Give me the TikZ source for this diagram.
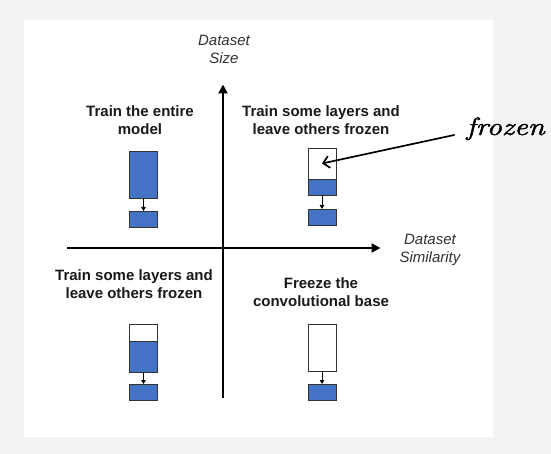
\documentclass[tikz,border=0pt]{standalone}
\usepackage{fontspec}
\setmainfont{Liberation Sans}
\newfontfamily\handfont{Latin Modern Roman}[FakeBold=1.6]
\usetikzlibrary{arrows.meta}
\definecolor{bggray}{HTML}{F3F3F3}
\definecolor{lblue}{HTML}{4472C4}
\definecolor{edgec}{HTML}{333333}
\definecolor{txt}{HTML}{1A1A1A}
\begin{document}
\begin{tikzpicture}[x=1pt,y=-1pt,
  layer/.style={draw=edgec,line width=0.9pt,minimum width=28pt,inner sep=0pt,outer sep=0pt,anchor=north},
  bluebox/.style={layer,fill=lblue},
  whitebox/.style={layer,fill=white},
  smallarrow/.style={draw=black,line width=0.8pt,-{Triangle[length=4pt,width=4.5pt]}},
  axisline/.style={draw=black,line width=2.3pt,-{Triangle[length=9pt,width=9pt]}},
  heading/.style={font=\fontsize{15}{18}\bfseries\selectfont,align=center,text=txt,inner sep=0pt,anchor=north},
  axislabel/.style={font=\fontsize{15}{18.5}\itshape\selectfont,align=center,text=txt!90,inner sep=0pt,anchor=north},
  handarrow/.style={draw=black,line width=1.7pt,line cap=round,-{Straight Barb[length=6pt,width=12pt]}}]
\fill[bggray] (0,0) rectangle (551,454);
\useasboundingbox (0,0) rectangle (551,454);
\fill[white] (24,20) rectangle (493,437);
% axes
\coordinate (vbot) at (223,398);
\coordinate (vtop) at (223,84.5);
\coordinate (hleft) at (67,248);
\coordinate (hright) at (380.5,248);
\draw[axisline] (vbot) -- (vtop);
\draw[axisline] (hleft) -- (hright);
\node[axislabel] (ysize) at (224,34.5) {Dataset\\Size};
\node[axislabel] (xsim) at (430,233.5) {Dataset\\Similarity};
% headings
\node[heading] (tlh) at (140,105) {Train the entire\\model};
\node[heading] (trh) at (321,105) {Train some layers and\\leave others frozen};
\node[heading] (blh) at (134,269) {Train some layers and\\leave others frozen};
\node[heading] (brh) at (321,277) {Freeze the\\convolutional base};
% top-left
\node[bluebox,minimum height=47pt] (tlbig) at (143.5,151) {};
\node[bluebox,minimum height=16pt] (tlsmall) at (143.5,211) {};
\draw[smallarrow] (tlbig.south) -- (tlsmall.north);
% top-right
\node[whitebox,minimum height=31pt] (trw) at (322,148) {};
\node[bluebox,minimum height=16pt] (trb) at (trw.south) {};
\node[bluebox,minimum height=16pt] (trsmall) at (322,209) {};
\draw[smallarrow] (trb.south) -- (trsmall.north);
% bottom-left
\node[whitebox,minimum height=17pt] (blw) at (143.5,324) {};
\node[bluebox,minimum height=31pt] (blb) at (blw.south) {};
\node[bluebox,minimum height=16pt] (blsmall) at (143.5,384) {};
\draw[smallarrow] (blb.south) -- (blsmall.north);
% bottom-right
\node[whitebox,minimum height=47pt] (brw) at (322,324) {};
\node[bluebox,minimum height=16pt] (brsmall) at (322,384) {};
\draw[smallarrow] (brw.south) -- (brsmall.north);
% frozen annotation
\node[font=\handfont\itshape\fontsize{25}{28}\selectfont,anchor=base,inner xsep=12pt,inner ysep=0pt] (frozen) at (505.5,135) {\scalebox{1.22}[1]{frozen}};
\draw[handarrow] (frozen.base west) -- (trw.center);
\end{tikzpicture}
\end{document}
